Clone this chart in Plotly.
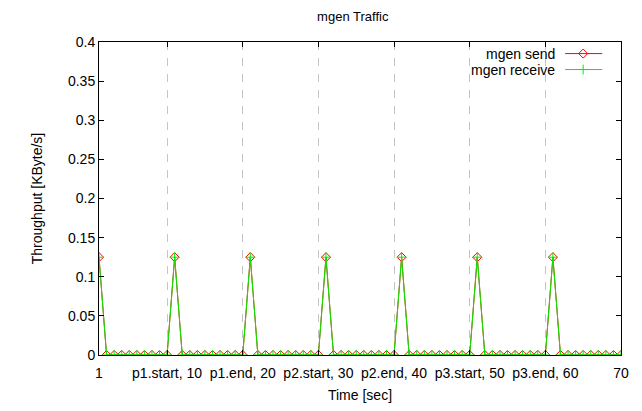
import plotly.graph_objects as go

time_sec = list(range(1, 71))
peak_times = [1, 11, 21, 31, 41, 51, 61]
peak_value = 0.125
send_kbps = [peak_value if t in peak_times else 0.0 for t in time_sec]
recv_kbps = [peak_value if t in peak_times else 0.0 for t in time_sec]

x_tickvals = [1, 10, 20, 30, 40, 50, 60, 70]
x_ticktext = ["1", "p1.start, 10", "p1.end, 20", "p2.start, 30", "p2.end, 40",
              "p3.start, 50", "p3.end, 60", "70"]
y_tickvals = [0, 0.05, 0.1, 0.15, 0.2, 0.25, 0.3, 0.35, 0.4]
y_ticktext = ["0", "0.05", "0.1", "0.15", "0.2", "0.25", "0.3", "0.35", "0.4"]

series_names = ["mgen send", "mgen receive"]
RED = "#ff0000"
GREEN = "#00ee00"
FONT = "Liberation Sans, Arial, sans-serif"
FS = 14

fig = go.Figure()
fig.add_trace(go.Scatter(x=time_sec, y=send_kbps, mode="lines+markers", name=series_names[0],
                         line=dict(color=RED, width=1),
                         marker=dict(symbol="diamond-open", size=7, color=RED, line=dict(width=1, color=RED))))
fig.add_trace(go.Scatter(x=time_sec, y=recv_kbps, mode="lines+markers", name=series_names[1],
                         line=dict(color=GREEN, width=1),
                         marker=dict(symbol="cross-thin-open", size=7, color=GREEN, line=dict(width=1, color=GREEN))))

# manual gnuplot-style legend (text left of sample) on an overlay axis
leg_y = [0.963, 0.912]
styles = [(RED, "diamond-open"), (GREEN, "cross-thin-open")]
for name, yy, (c, sym) in zip(series_names, leg_y, styles):
    fig.add_trace(go.Scatter(x=[0.893, 0.9275, 0.964], y=[yy, yy, yy], xaxis="x2", yaxis="y2",
                             mode="lines", line=dict(color=c, width=1), showlegend=False, hoverinfo="skip"))
    fig.add_trace(go.Scatter(x=[0.9275], y=[yy], xaxis="x2", yaxis="y2", mode="markers",
                             marker=dict(symbol=sym, size=7, color=c, line=dict(width=1, color=c)),
                             showlegend=False, hoverinfo="skip"))
    fig.add_annotation(x=0.877, y=yy, xref="x2", yref="y2", text=name, showarrow=False,
                       xanchor="right", yanchor="middle", font=dict(family=FONT, size=FS, color="black"))

axis_common = dict(showline=True, linecolor="black", linewidth=1, mirror="ticks",
                   ticks="inside", ticklen=5, tickcolor="black", zeroline=False,
                   tickfont=dict(family=FONT, size=FS, color="black"))

fig.update_layout(
    width=642, height=411,
    margin=dict(l=91, r=29, t=33.5, b=63.5),
    paper_bgcolor="white", plot_bgcolor="white",
    showlegend=False,
    title=dict(text="mgen Traffic", x=0.537, xanchor="center", y=0.98, yanchor="middle",
               font=dict(family=FONT, size=13, color="black")),
    xaxis=dict(range=[1, 70], tickvals=x_tickvals, ticktext=x_ticktext,
               showgrid=True, gridcolor="#c4c4c4", griddash="8px,8px", gridwidth=1,
               ticklabelstandoff=5,
               title=dict(text="Time [sec]", font=dict(family=FONT, size=FS, color="black"), standoff=10),
               **axis_common),
    yaxis=dict(range=[0, 0.4], tickvals=y_tickvals, ticktext=y_ticktext, showgrid=False,
               title=dict(text="Throughput [KByte/s]", font=dict(family=FONT, size=FS, color="black"), standoff=22),
               **axis_common),
    xaxis2=dict(range=[0, 1], overlaying="x", visible=False),
    yaxis2=dict(range=[0, 1], overlaying="y", visible=False),
)

fig.write_html("out.html")
